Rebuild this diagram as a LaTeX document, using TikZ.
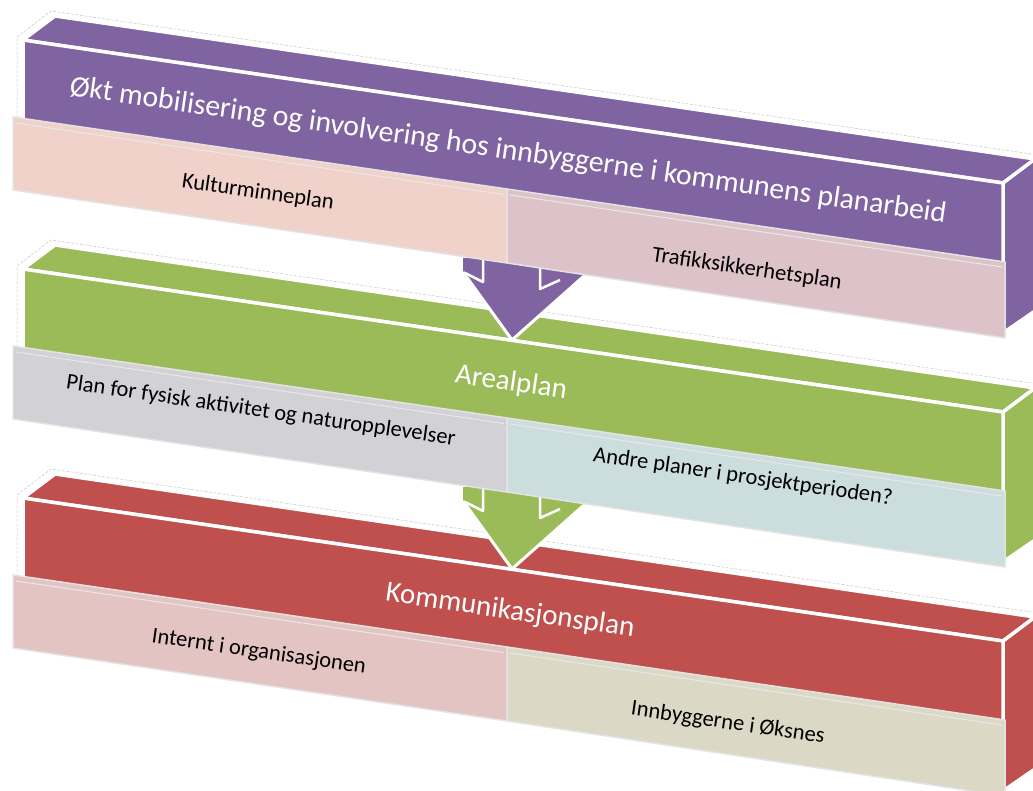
\documentclass[tikz,border=0pt]{standalone}
\usepackage{fontspec}
\setmainfont{Carlito}
\definecolor{purp}{HTML}{8064A2}
\definecolor{grn}{HTML}{9BBB59}
\definecolor{redc}{HTML}{C0504D}
\definecolor{tkult}{HTML}{F0D2CA}
\definecolor{ttraf}{HTML}{DDC3C9}
\definecolor{tplan}{HTML}{D1D1D6}
\definecolor{tandre}{HTML}{CCDDDD}
\definecolor{tint}{HTML}{E4C3C3}
\definecolor{tinnb}{HTML}{DBD9C6}
\tikzset{
  face/.style={line width=3.5pt, draw=white, line join=round},
  faint/.style={draw=gray!45, line width=0.5pt, dash pattern=on 3pt off 1.5pt},
  tile/.style={draw=gray!22, line width=1.5pt, line join=round},
  tileinner/.style={draw=gray!18, line width=1pt},
  arrowedge/.style={draw=white, line width=3pt, line join=round},
  arrowfold/.style={draw=white, line width=2.5pt, line join=round},
  titletext/.style={text=white, font=\fontsize{29}{34}\selectfont, rotate=-8.3, anchor=base, inner sep=0pt},
  subtext/.style={text=black, font=\fontsize{22.5}{26}\selectfont, rotate=-8.3, anchor=base, inner sep=0pt}
}
\begin{document}
\begin{tikzpicture}[x=1pt,y=-1pt]
\useasboundingbox (0,0) rectangle (1033,791);
\clip (0,0) rectangle (1033,791);
% blocks
\foreach \dy/\col in {0/purp,229/grn,458/redc}{
  \begin{scope}[shift={(0,\dy)}]
    \draw[faint] (17,118) -- (17,37) -- (51,11) -- (1045,156);
    \filldraw[fill=\col, face] (23,40) -- (55,16) -- (1035,159) -- (1003,183) -- cycle;
    \filldraw[fill=\col, face] (1003,183) -- (1035,159) -- (1035,311) -- (1003,333) -- cycle;
    \filldraw[fill=\col, face] (23,40) -- (1003,183) -- (1003,333) -- (23,190) -- cycle;
  \end{scope}
}
% arrows
\foreach \dy/\col in {0/purp,229/grn}{
  \begin{scope}[shift={(0,\dy)}]
    \fill[\col] (463,258) -- (584,258) -- (584,276) -- (512,340) -- (463,272) -- cycle;
    \draw[arrowedge] (463,272) -- (512,340) -- (584,276);
    \draw[arrowfold] (483,255) -- (483,282) -- (465,273);
    \draw[arrowfold] (540,255) -- (540,289) -- (560,280);
  \end{scope}
}
% tiles
\foreach \dy/\ca/\cb in {0/tkult/ttraf,229/tplan/tandre,458/tint/tinnb}{
  \begin{scope}[shift={(0,\dy)}]
    \filldraw[fill=\ca, tile] (13,117) -- (507,189) -- (507,263) -- (13,190) -- cycle;
    \draw[tileinner] (16,123) -- (504,194.5);
    \filldraw[fill=\cb, tile] (507,189) -- (1005,262) -- (1005,338) -- (507,263) -- cycle;
    \draw[tileinner] (510,195) -- (1002,267);
  \end{scope}
}
% texts
\node[titletext, font=\fontsize{29.7}{34}\selectfont] (t1) at (507,159) {Økt mobilisering og involvering hos innbyggerne i kommunens planarbeid};
\node[titletext] (t2) at (510,391) {Arealplan};
\node[titletext] (t3) at (509,619) {Kommunikasjonsplan};
\node[subtext] (s1a) at (257,198.5) {Kulturminneplan};
\node[subtext] (s1b) at (746,275) {Trafikksikkerhetsplan};
\node[subtext] (s2a) at (260,417) {Plan for fysisk aktivitet og naturopplevelser};
\node[subtext] (s2b) at (742,483) {Andre planer i prosjektperioden?};
\node[subtext] (s3a) at (258,658) {Internt i organisasjonen};
\node[subtext] (s3b) at (727,729) {Innbyggerne i Øksnes};
\end{tikzpicture}
\end{document}
